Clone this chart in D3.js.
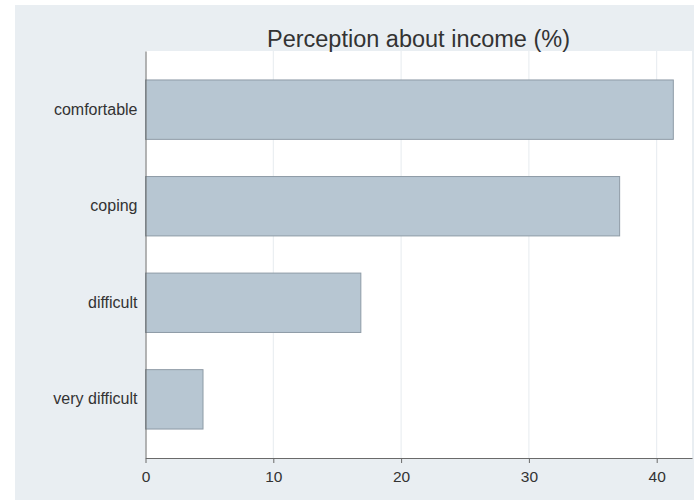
<!DOCTYPE html>
<html><head><meta charset="utf-8">
<script src="https://cdn.jsdelivr.net/npm/d3@7"></script>
<style>body{margin:0;background:#fff;}svg{display:block;font-family:"Liberation Sans",Arial,sans-serif;}</style>
</head><body>
<svg id="c" width="694" height="502"></svg>
<script>
const categories = ["comfortable","coping","difficult","very difficult"];
const values = [41.3, 37.1, 16.85, 4.5];
const xTicks = [0,10,20,30,40];
const titleText = "Perception about income (%)";

const svg = d3.select("#c");
svg.append("rect").attr("x",15).attr("y",5).attr("width",679).attr("height",495).attr("fill","#e9eef2");

const L=145.5, R=692, T=51, B=458;
svg.append("rect").attr("x",L).attr("y",T).attr("width",R-L).attr("height",B-T).attr("fill","#ffffff");

const x = d3.scaleLinear().domain([0,(R-L)/12.78]).range([L,R]);
const y = d3.scaleBand().domain(categories).range([T,B]).paddingInner(0.385).paddingOuter(0.30);

// gridlines
svg.append("g").selectAll("line").data(xTicks.filter(d=>d>0)).join("line")
  .attr("x1",d=>x(d)).attr("x2",d=>x(d)).attr("y1",T).attr("y2",B)
  .attr("stroke","#e6ebef").attr("stroke-width",1);

// bars
svg.append("g").selectAll("rect").data(categories).join("rect")
  .attr("x",x(0)).attr("y",d=>y(d))
  .attr("width",(d,i)=>x(values[i])-x(0)).attr("height",y.bandwidth())
  .attr("fill","#b7c6d2").attr("stroke","#8e9ba6").attr("stroke-width",1);

// x axis
const xa = svg.append("g").attr("transform",`translate(0,${B})`)
  .call(d3.axisBottom(x).tickValues(xTicks).tickSize(5).tickPadding(8).tickSizeOuter(0));
xa.select(".domain").attr("stroke","#6a6a6a");
xa.selectAll(".tick line").attr("stroke","#6a6a6a");
xa.selectAll(".tick text").attr("font-size",15.5).attr("fill","#333").attr("font-family","Liberation Sans, Arial, sans-serif");

// y axis
const ya = svg.append("g").attr("transform",`translate(${L},0)`)
  .call(d3.axisLeft(y).tickSize(0).tickPadding(8).tickSizeOuter(0));
ya.select(".domain").attr("stroke","#6a6a6a");
ya.selectAll(".tick text").attr("font-size",16).attr("fill","#333").attr("font-family","Liberation Sans, Arial, sans-serif");

// title
svg.append("text").attr("x",418.5).attr("y",47).attr("text-anchor","middle")
  .attr("font-size",23.5).attr("fill","#333").text(titleText);
</script>
</body></html>
